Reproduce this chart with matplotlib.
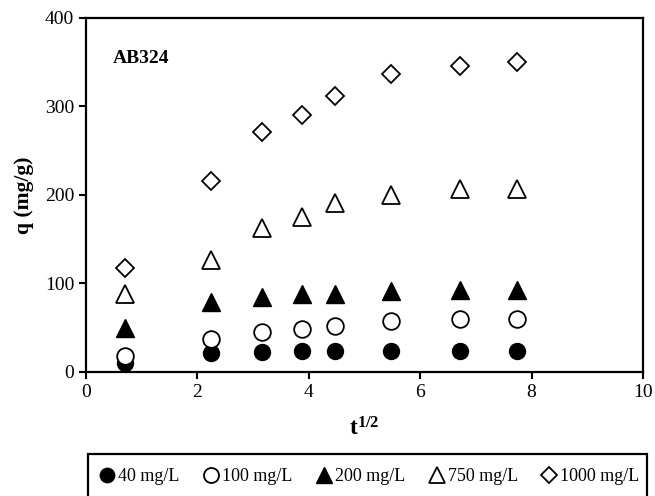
import numpy as np
import matplotlib
matplotlib.use("Agg")
import matplotlib.pyplot as plt
from matplotlib.patches import Rectangle

plt.rcParams['font.family'] = ['Liberation Serif', 'DejaVu Serif']
plt.rcParams['mathtext.fontset'] = 'custom'
plt.rcParams['mathtext.rm'] = 'Liberation Serif'
plt.rcParams['mathtext.bf'] = 'Liberation Serif:bold'

t_sqrt = [0.707, 2.236, 3.162, 3.873, 4.472, 5.477, 6.708, 7.746]
q_40 = [10, 22, 23, 24, 24, 24, 24, 24]
q_100 = [18, 37, 45, 49, 52, 57, 60, 60]
q_200 = [50, 79, 85, 88, 88, 91, 93, 92]
q_750 = [88, 126, 162, 175, 191, 200, 207, 206]
q_1000 = [117, 216, 271, 290, 311, 336, 345, 350]
labels = ["40 mg/L", "100 mg/L", "200 mg/L", "750 mg/L", "1000 mg/L"]

fig = plt.figure(figsize=(6.55, 4.96), dpi=100)
ax = fig.add_axes([86/655, 1-372/496, 557/655, 354.5/496])

styles = [
    dict(marker='o', mfc='black', mec='black', ms=11.5),
    dict(marker='o', mfc='white', mec='black', ms=12, mew=1.3),
    dict(marker='^', mfc='black', mec='black', ms=12.5),
    dict(marker='^', mfc='white', mec='black', ms=13, mew=1.3),
    dict(marker='D', mfc='white', mec='black', ms=9.5, mew=1.3),
]
series = [q_40, q_100, q_200, q_750, q_1000]
handles = []
for s, st, lab in zip(series, styles, labels):
    h, = ax.plot(t_sqrt, s, ls='none', label=lab, **st)
    handles.append(h)

ax.set_xlim(0, 10)
ax.set_ylim(0, 400)
ax.set_xticks([0, 2, 4, 6, 8, 10])
ax.set_yticks([0, 100, 200, 300, 400])
for sp in ax.spines.values():
    sp.set_linewidth(1.6)
ax.tick_params(direction='out', length=5, width=1.5, labelsize=14)

ax.set_xlabel(r'$\mathbf{t^{1/2}}$', fontsize=17, labelpad=12)
ax.set_ylabel('q (mg/g)', fontsize=15.5, fontweight='bold', labelpad=8)
ax.text(0.048, 0.883, 'AB324', transform=ax.transAxes, fontsize=14,
        fontweight='bold', va='center', ha='left')

# legend box frame (extends past the bottom edge, as in the reference)
fig.patches.append(Rectangle((88/655, -4/496), 559/655, 46/496,
                             transform=fig.transFigure, fill=False,
                             edgecolor='black', linewidth=1.6, clip_on=False))
leg = fig.legend(handles=handles, loc='center',
                 bbox_to_anchor=(369/655, 1-476.5/496), ncol=5,
                 frameon=False, fontsize=13, handletextpad=0.1,
                 columnspacing=1.25, handlelength=1.0, markerscale=0.9)

fig.savefig('out.png', dpi=100)
